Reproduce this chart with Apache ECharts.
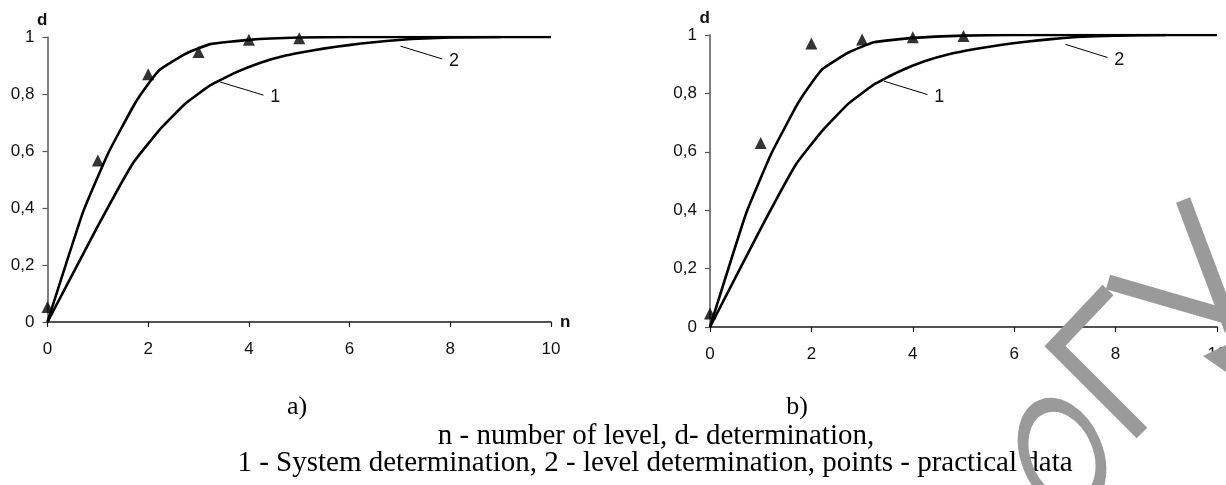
<!DOCTYPE html>
<html>
<head>
<meta charset="utf-8">
<script src="https://cdn.jsdelivr.net/npm/echarts@6/dist/echarts.min.js"></script>
<style>html,body{margin:0;padding:0;background:#fff}#chart{width:1226px;height:485px}</style>
</head>
<body>
<div id="chart"></div>
<script>
// ---- data ----
const xTicks = [0, 2, 4, 6, 8, 10];
const yTickLabels = ['0', '0,2', '0,4', '0,6', '0,8', '1'];
// curve 1: System determination
const systemCurve = [[0,0],[0.98,0.33],[1.7,0.558],[2.23,0.675],[2.73,0.765],[3.23,0.83],[3.73,0.875],[4.23,0.91],[4.73,0.935],[5.23,0.952],[5.73,0.966],[6.23,0.977],[6.73,0.986],[7.23,0.993],[8,0.998],[9,1]];
// curve 2: level determination
const levelCurve = [[0,0],[0.71,0.388],[1.21,0.594],[1.73,0.765],[2.0,0.835],[2.23,0.885],[2.73,0.94],[3.23,0.975],[4,0.99],[5,0.998],[6,1],[10,1]];
// practical data points
const practicalA = [[0,0.053],[1,0.567],[2,0.869],[3,0.947],[4,0.99],[5,0.996]];
const practicalB = [[0,0.046],[1,0.63],[2,0.971],[3,0.985],[4,0.992],[5,0.997]];
// curve call-outs (data space)
const curveLabels = [
  {label: '1', from: [3.43, 0.842], to: [4.29, 0.796]},
  {label: '2', from: [7.01, 0.968], to: [7.84, 0.923]}
];
const panelCaptions = ['a)', 'b)'];
const noteLines = ['n - number of level, d- determination,',
  '1 - System determination, 2 - level determination, points - practical data'];

// ---- chart ----
const chart = echarts.init(document.getElementById('chart'));
const sans = '"Liberation Sans", Arial, sans-serif';
const serif = '"Liberation Serif", "Times New Roman", serif';

function xAxisFor(i) {
  return {
    type: 'value', gridIndex: i, min: xTicks[0], max: xTicks[xTicks.length - 1], interval: 2,
    axisLine: {show: true, onZero: false, lineStyle: {color: '#1a1a1a', width: 1.5}},
    axisTick: {show: true, length: 5, lineStyle: {color: '#1a1a1a', width: 1.2}},
    splitLine: {show: false},
    axisLabel: {fontSize: 17, color: '#111', margin: 19, fontFamily: sans},
    name: 'n', nameLocation: 'end', nameGap: 9,
    nameTextStyle: {fontSize: 17, fontWeight: 'bold', color: '#111', fontFamily: sans, padding: [12, 0, 0, 0]}
  };
}
function yAxisFor(i) {
  return {
    type: 'value', gridIndex: i, min: 0, max: 1, interval: 0.2,
    axisLine: {show: true, onZero: false, lineStyle: {color: '#555', width: 1.5}},
    axisTick: {show: true, length: 5, lineStyle: {color: '#555', width: 1.2}},
    splitLine: {show: false},
    axisLabel: {fontSize: 17, color: '#111', margin: 13, fontFamily: sans,
      formatter: v => yTickLabels[Math.round(v / 0.2)]},
    name: 'd', nameLocation: 'end', nameGap: i === 0 ? 5 : 4,
    nameTextStyle: {fontSize: 17, fontWeight: 'bold', color: '#111', fontFamily: sans, align: 'right'}
  };
}
function lineSeries(i, data, withLabels) {
  const s = {
    type: 'line', xAxisIndex: i, yAxisIndex: i, data: data, showSymbol: false, symbol: 'none',
    smooth: 0.12, lineStyle: {color: '#000', width: 2.6}, silent: true, z: 3
  };
  if (withLabels) {
    s.markLine = {
      silent: true, symbol: ['none', 'none'], animation: false,
      lineStyle: {color: '#000', width: 1, type: 'solid'},
      label: {show: true, position: 'end', formatter: '{b}', distance: 7, fontSize: 18, color: '#111', fontFamily: sans},
      data: curveLabels.map(c => [{coord: c.from, name: c.label}, {coord: c.to}])
    };
  }
  return s;
}
function pointSeries(i, data) {
  return {type: 'scatter', xAxisIndex: i, yAxisIndex: i, data: data, symbol: 'triangle', symbolSize: 12,
    itemStyle: {color: '#000'}, silent: true, z: 5};
}

const wm = {stroke: '#9a9a9a', fill: null, lineWidth: 15};
const option = {
  animation: false,
  backgroundColor: '#fff',
  grid: [
    {left: 47.5, top: 37, width: 503.5, height: 285, outerBoundsMode: 'none'},
    {left: 710, top: 35, width: 507, height: 292, outerBoundsMode: 'none'}
  ],
  xAxis: [xAxisFor(0), xAxisFor(1)],
  yAxis: [yAxisFor(0), yAxisFor(1)],
  series: [
    lineSeries(0, systemCurve, true), lineSeries(0, levelCurve, false), pointSeries(0, practicalA),
    lineSeries(1, systemCurve, true), lineSeries(1, levelCurve, false), pointSeries(1, practicalB)
  ],
  graphic: [
    {type: 'text', x: 297, y: 407, style: {text: panelCaptions[0], font: '26px ' + serif, fill: '#000', textAlign: 'center', textVerticalAlign: 'middle', align: 'center', verticalAlign: 'middle'}},
    {type: 'text', x: 797, y: 407, style: {text: panelCaptions[1], font: '26px ' + serif, fill: '#000', textAlign: 'center', textVerticalAlign: 'middle', align: 'center', verticalAlign: 'middle'}},
    {type: 'text', x: 656, y: 436, style: {text: noteLines[0], font: '29px ' + serif, fill: '#000', textAlign: 'center', textVerticalAlign: 'middle', align: 'center', verticalAlign: 'middle'}},
    {type: 'text', x: 655, y: 463, style: {text: noteLines[1], font: '29px ' + serif, fill: '#000', textAlign: 'center', textVerticalAlign: 'middle', align: 'center', verticalAlign: 'middle'}},
    // watermark strokes
    {type: 'polyline', z: 100, shape: {points: [[1183, 200], [1232, 330]]}, style: wm},
    {type: 'polyline', z: 100, shape: {points: [[1108, 282], [1232, 318]]}, style: wm},
    {type: 'polyline', z: 100, shape: {points: [[1108, 290], [1055, 346], [1142, 433]]}, style: wm},
    {type: 'polygon', z: 100, shape: {points: [[1203, 356], [1226, 345], [1226, 372]]}, style: {fill: '#9a9a9a'}},
    {type: 'circle', z: 100, x: 1062, y: 455, scaleY: 1.45, rotation: 0.4, shape: {cx: 0, cy: 0, r: 36}, style: {stroke: '#9a9a9a', fill: null, lineWidth: 10}}
  ]
};
chart.setOption(option);
</script>
</body>
</html>
